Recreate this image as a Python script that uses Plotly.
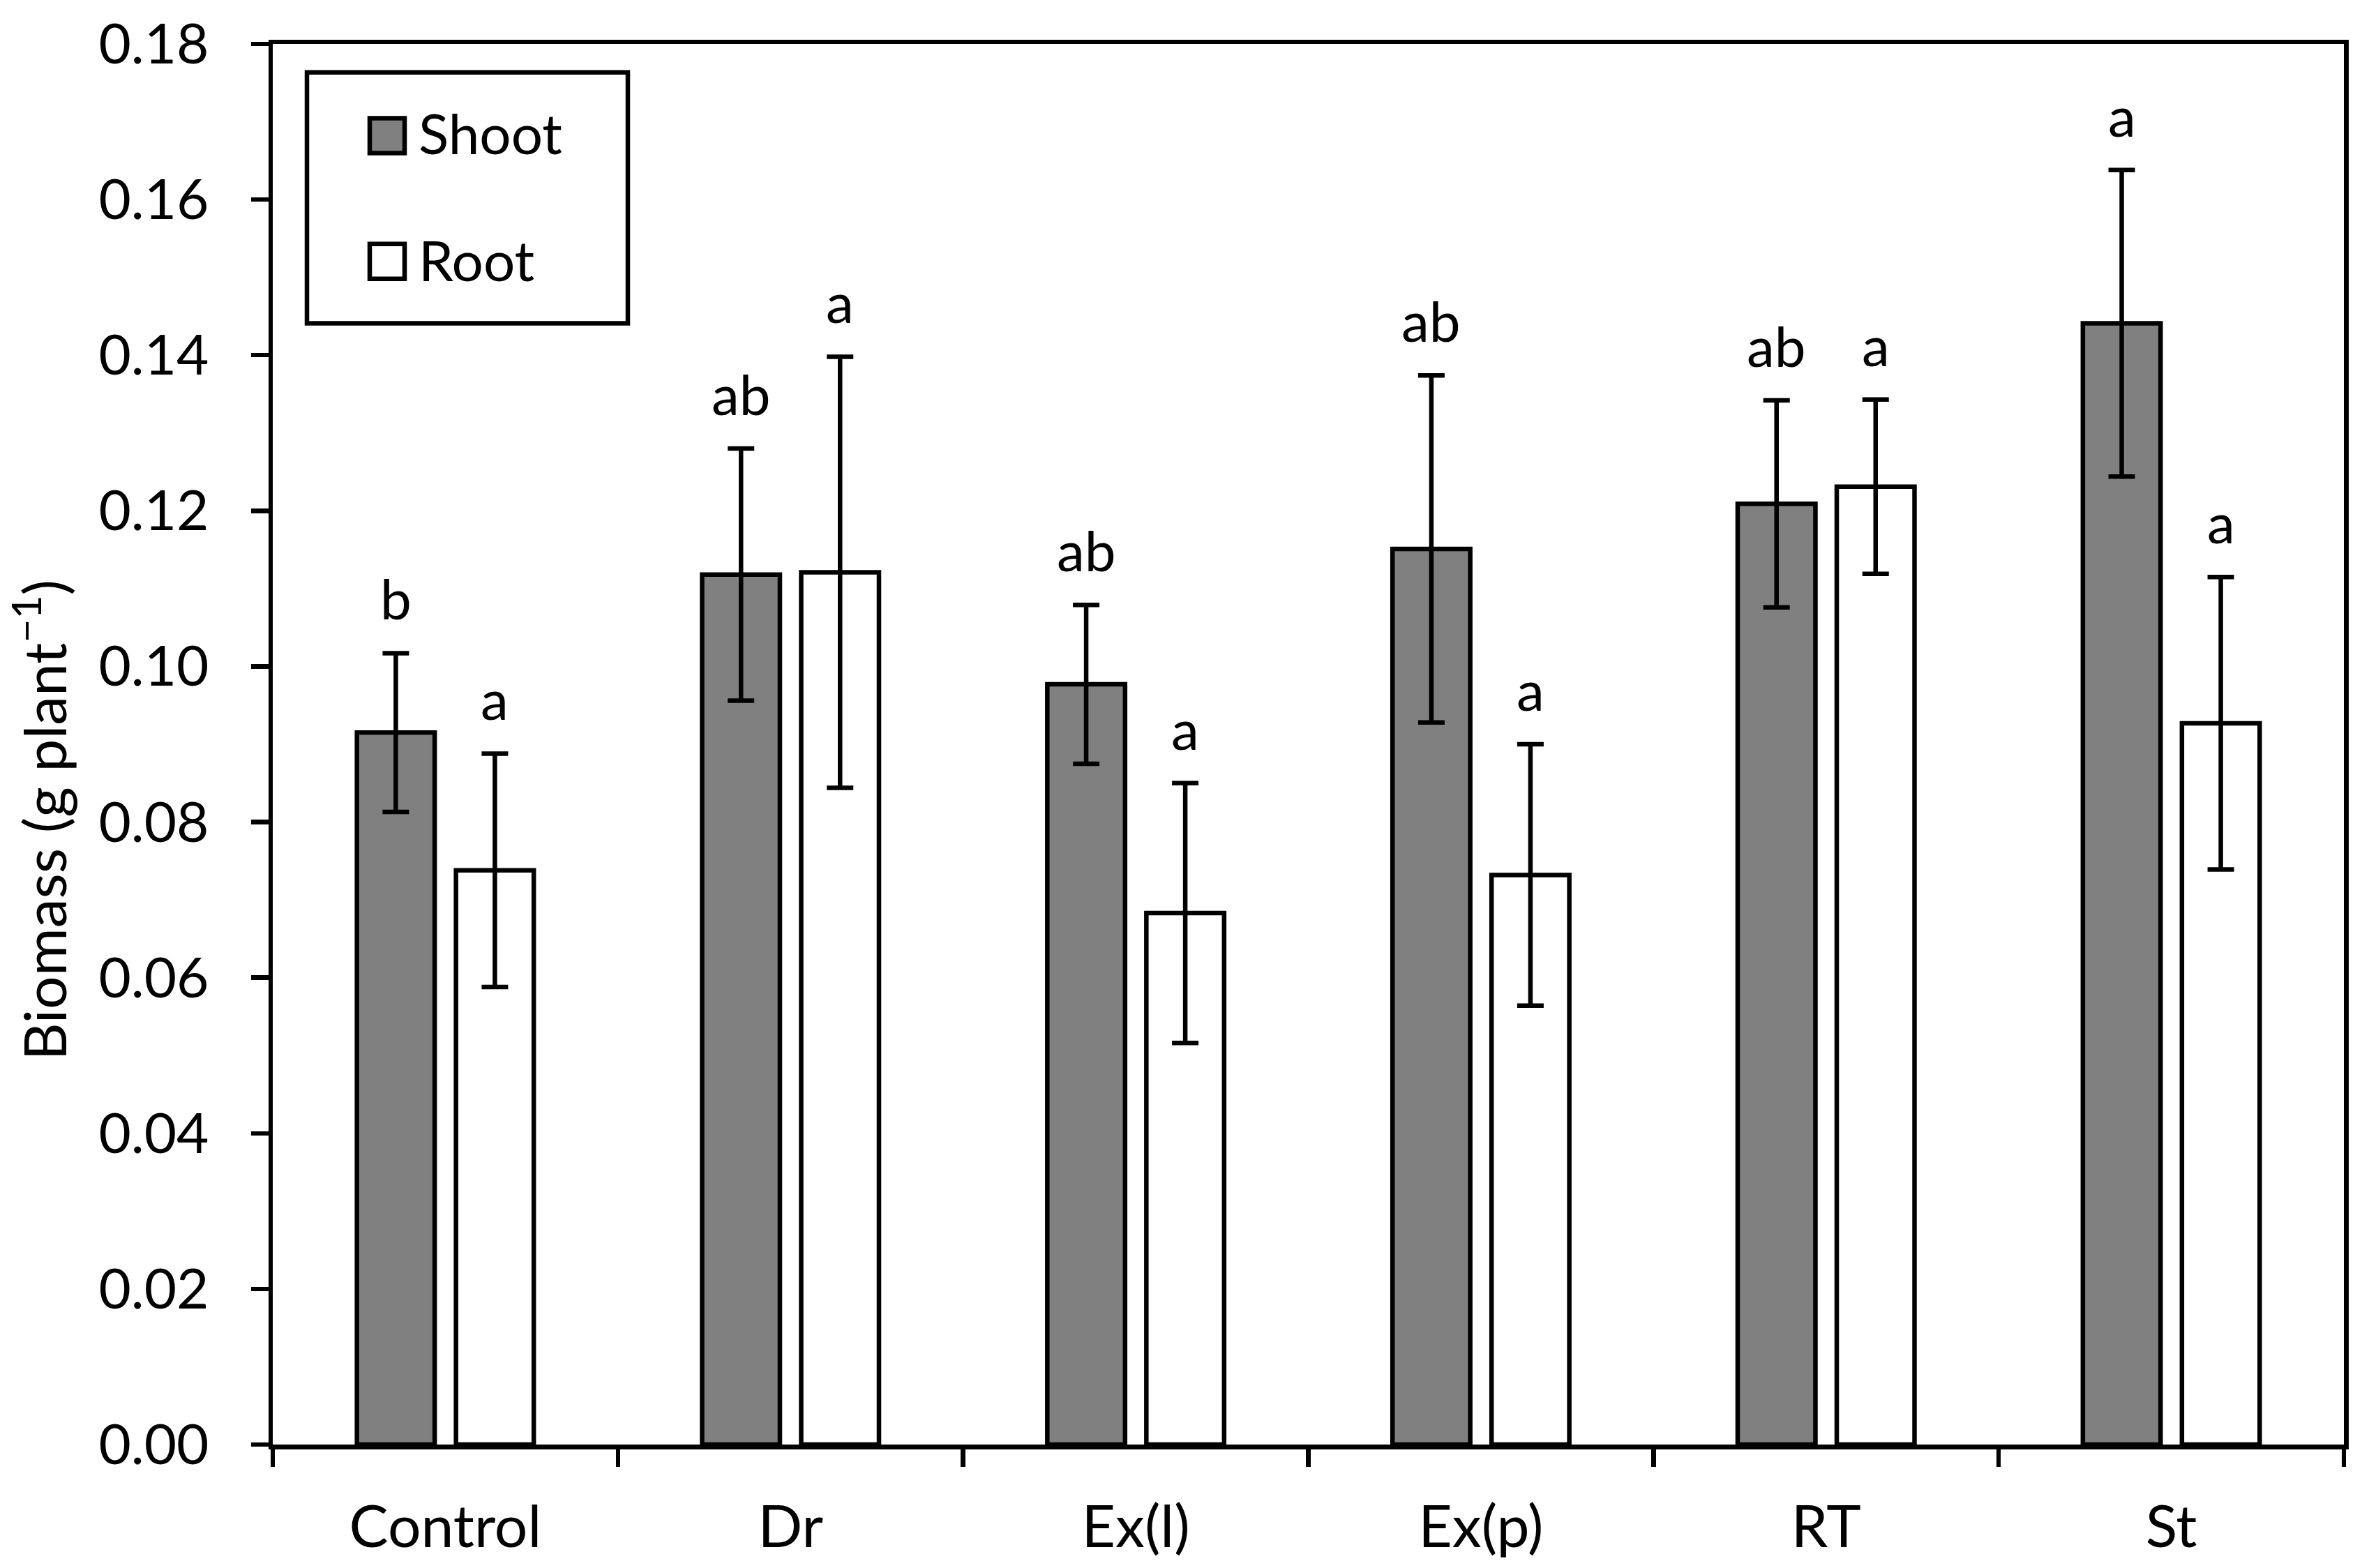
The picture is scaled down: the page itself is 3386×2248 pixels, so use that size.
import plotly.graph_objects as go

# ---- data ----
categories = ["Control", "Dr", "Ex(l)", "Ex(p)", "RT", "St"]
shoot_mean = [0.0915, 0.1118, 0.0977, 0.1151, 0.1209, 0.1441]
shoot_err = [0.0102, 0.0162, 0.0102, 0.0223, 0.0133, 0.0197]
root_mean = [0.0738, 0.1121, 0.0683, 0.0732, 0.1231, 0.0927]
root_err = [0.0150, 0.0277, 0.0167, 0.0168, 0.0112, 0.0188]
shoot_letters = ["b", "ab", "ab", "ab", "ab", "a"]
root_letters = ["a", "a", "a", "a", "a", "a"]
y_ticks = [0.00, 0.02, 0.04, 0.06, 0.08, 0.10, 0.12, 0.14, 0.16, 0.18]

W, H = 3386, 2248
L, R, T, B = 391, 3360, 56, 2072  # plot area in page pixels
FONT = "Lato"
FS = 80
LW = 6.5
BARGAP = 0.426
BARGROUPGAP = 0.215


def px(x):
    return (x - L) / (R - L)


def py(y):
    return (B - y) / (B - T)


fig = go.Figure()
fig.add_trace(go.Bar(
    name="Shoot", x=categories, y=shoot_mean,
    marker=dict(color="#808080", line=dict(color="black", width=LW)),
    error_y=dict(type="data", array=shoot_err, visible=True,
                 color="black", thickness=LW, width=19),
    showlegend=False,
))
fig.add_trace(go.Bar(
    name="Root", x=categories, y=root_mean,
    marker=dict(color="white", line=dict(color="black", width=LW)),
    error_y=dict(type="data", array=root_err, visible=True,
                 color="black", thickness=LW, width=19),
    showlegend=False,
))

# significance letters above error bars
off = (1 - BARGAP) / 4
ann = []
for i, c in enumerate(categories):
    ann.append(dict(x=i - off, y=shoot_mean[i] + shoot_err[i], xref="x", yref="y",
                    text=shoot_letters[i], showarrow=False, yanchor="bottom",
                    yshift=29, font=dict(family=FONT, size=FS, color="black")))
    ann.append(dict(x=i + off, y=root_mean[i] + root_err[i], xref="x", yref="y",
                    text=root_letters[i], showarrow=False, yanchor="bottom",
                    yshift=29, font=dict(family=FONT, size=FS, color="black")))

# y-axis title
ann.append(dict(x=px(57), y=py(1173), xref="paper", yref="paper",
                text="Biomass (g plant<sup>\u22121</sup>)", textangle=-90,
                showarrow=False, xanchor="center", yanchor="middle",
                font=dict(family=FONT, size=84, color="black")))

# legend (manual)
shapes = [
    dict(type="rect", xref="paper", yref="paper", x0=px(440), x1=px(900),
         y0=py(458), y1=py(97), line=dict(color="black", width=LW),
         fillcolor="white"),
    dict(type="rect", xref="paper", yref="paper", x0=px(530), x1=px(580),
         y0=py(213), y1=py(163), line=dict(color="black", width=LW),
         fillcolor="#808080"),
    dict(type="rect", xref="paper", yref="paper", x0=px(530), x1=px(580),
         y0=py(394), y1=py(344), line=dict(color="black", width=LW),
         fillcolor="white"),
]
ann.append(dict(x=px(598), y=py(184), xref="paper", yref="paper", text="Shoot",
                showarrow=False, xanchor="left", yanchor="middle",
                font=dict(family=FONT, size=FS, color="black")))
ann.append(dict(x=px(598), y=py(366), xref="paper", yref="paper", text="Root",
                showarrow=False, xanchor="left", yanchor="middle",
                font=dict(family=FONT, size=FS, color="black")))

fig.update_layout(
    width=W, height=H,
    margin=dict(l=L, r=W - R, t=T, b=H - B, pad=0),
    paper_bgcolor="white", plot_bgcolor="white",
    barmode="group", bargap=BARGAP, bargroupgap=BARGROUPGAP,
    font=dict(family=FONT, size=FS, color="black"),
    annotations=ann, shapes=shapes,
    showlegend=False,
)
fig.update_xaxes(
    type="category", tickson="boundaries", ticks="outside", ticklen=25,
    tickwidth=LW, tickcolor="black", showline=True, linewidth=LW,
    linecolor="black", mirror=True, showgrid=False, zeroline=False,
    tickfont=dict(family=FONT, size=84, color="black"), ticklabelstandoff=40,
)
fig.update_yaxes(
    range=[0, 0.18], tickvals=y_ticks, tickformat=".2f", ticks="outside",
    ticklen=25, tickwidth=LW, tickcolor="black", showline=True, linewidth=LW,
    linecolor="black", mirror=True, showgrid=False, zeroline=False,
    tickfont=dict(family=FONT, size=FS, color="black"), ticklabelstandoff=44,
)

fig.write_html(
    "out.html",
    config={"displayModeBar": False, "staticPlot": True},
    post_script="document.body.style.margin='0';document.body.style.overflow='hidden';",
)
